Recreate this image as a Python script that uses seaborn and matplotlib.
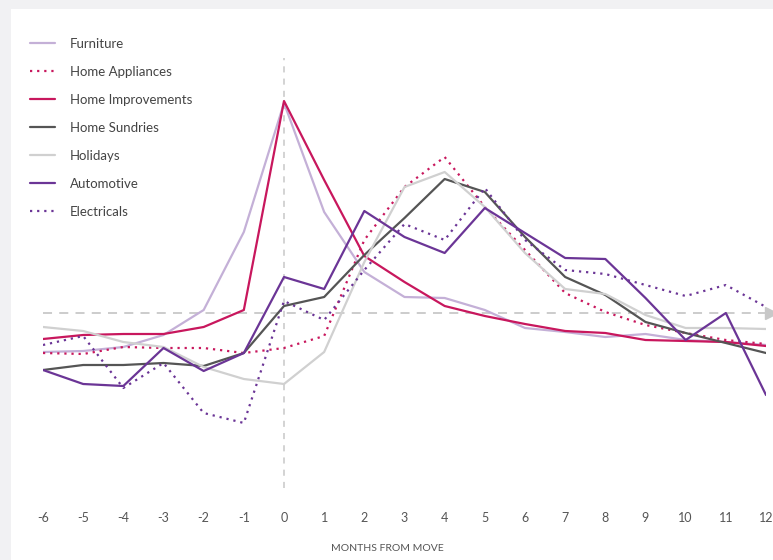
#spend index around a house move

import pandas as pd
import numpy as np
import matplotlib.pyplot as plt
import seaborn as sns
from matplotlib.patches import Rectangle

months = list(range(-6, 13))

furniture = [80.5, 81, 83, 89, 101.5, 140.5, 205, 150.5, 120.5, 108, 107.5, 101.5, 92.5, 90.5, 88, 89.5, 86.5, 85.5, 84]
home_appliances = [80, 79.5, 83, 82.5, 82.5, 80, 82.5, 88.5, 136.5, 163, 178, 153, 131.5, 110, 100.5, 94, 90, 86.5, 84.5]
home_improvements = [87, 89, 89.5, 89.5, 93, 101.5, 206, 166.5, 128.5, 115.5, 103.5, 98.5, 94.5, 91, 90, 86.5, 86, 85.5, 83.5]
home_sundries = [71.5, 74, 74, 75, 73.5, 80, 103.5, 108, 129, 147.5, 167, 160.5, 138, 118, 109, 95.5, 90, 85, 80]
holidays = [93, 91, 85.5, 83, 73, 67, 64.5, 80.5, 125.5, 163, 170.5, 153, 130, 112, 109.5, 99, 92.5, 92.5, 92]
automotive = [71.5, 64.5, 63.5, 82.5, 71, 80, 118, 112, 151, 138, 130, 152.5, 140, 127.5, 127, 107.5, 86.5, 100, 59]
electricals = [84, 88.5, 62.5, 75, 50, 45, 106, 96.5, 121.5, 144.5, 136.5, 162.5, 136.5, 121.5, 119.5, 114, 108.5, 114, 103]

series = {
    'Furniture': furniture,
    'Home Appliances': home_appliances,
    'Home Improvements': home_improvements,
    'Home Sundries': home_sundries,
    'Holidays': holidays,
    'Automotive': automotive,
    'Electricals': electricals,
}

# colour and dotted or not
styles = {
    'Furniture': ('#c4b0d7', '-'),
    'Home Appliances': ('#c8175d', (0, (1, 2.2))),
    'Home Improvements': ('#c8175d', '-'),
    'Home Sundries': ('#555555', '-'),
    'Holidays': ('#d0d0d0', '-'),
    'Automotive': ('#6b3596', '-'),
    'Electricals': ('#6b3596', (0, (1, 2.2))),
}

df = pd.DataFrame(series)
df['month'] = months

sns.set_style("white")
plt.rcParams['font.family'] = ['Lato', 'DejaVu Sans']

fig = plt.figure(figsize=(7.73, 5.6), dpi=100)
fig.patch.set_facecolor('#f1f1f3')
fig.add_artist(Rectangle((11 / 773, 0), 1, 1 - 9 / 560, transform=fig.transFigure,
                         facecolor='white', edgecolor='none', zorder=0))

ax = fig.add_axes([43 / 773, 60 / 560, (766 - 43) / 773, 491 / 560])
ax.set_facecolor('none')

# reference lines
ax.axhline(100, xmin=0, xmax=1, color='#c8c8c8', lw=1.3, ls=(0, (5, 4)), zorder=1)
ax.plot([12.12], [100], marker='>', color='#c8c8c8', ms=8, clip_on=False, zorder=1)
ax.axvline(0, ymin=(500 - 488) / 491, ymax=(500 - 58) / 491, color='#c8c8c8', lw=1.1,
           ls=(0, (4, 4)), zorder=1)

for name in series:
    col, ls = styles[name]
    sns.lineplot(data=df, x='month', y=name, ax=ax, color=col, linestyle=ls,
                 linewidth=1.6, label=name, zorder=3)

ax.set_xlim(-6, 12)
ax.set_ylim(100 + (313 - 500) / 2, 100 + (313 - 9) / 2)
ax.set_xticks(months)
ax.set_xticklabels([str(m) for m in months])
ax.tick_params(axis='x', length=0, pad=9, labelsize=9, labelcolor='#555555')
ax.set_yticks([])
ax.set_ylabel('')
ax.set_xlabel('MONTHS FROM MOVE', fontsize=7.5, color='#555555', labelpad=14)
ax.xaxis.label.set_x(0.477)
sns.despine(ax=ax, left=True, bottom=True)

leg = ax.legend(loc='upper left', bbox_to_anchor=(30 / 773, 1 - 38 / 560),
                bbox_transform=fig.transFigure, frameon=False, fontsize=9.5,
                handlelength=1.9, handletextpad=1.15, labelspacing=1.21,
                borderpad=0, borderaxespad=0)
for t in leg.get_texts():
    t.set_color('#444444')

fig.savefig('out.png', dpi=100, facecolor=fig.get_facecolor())
